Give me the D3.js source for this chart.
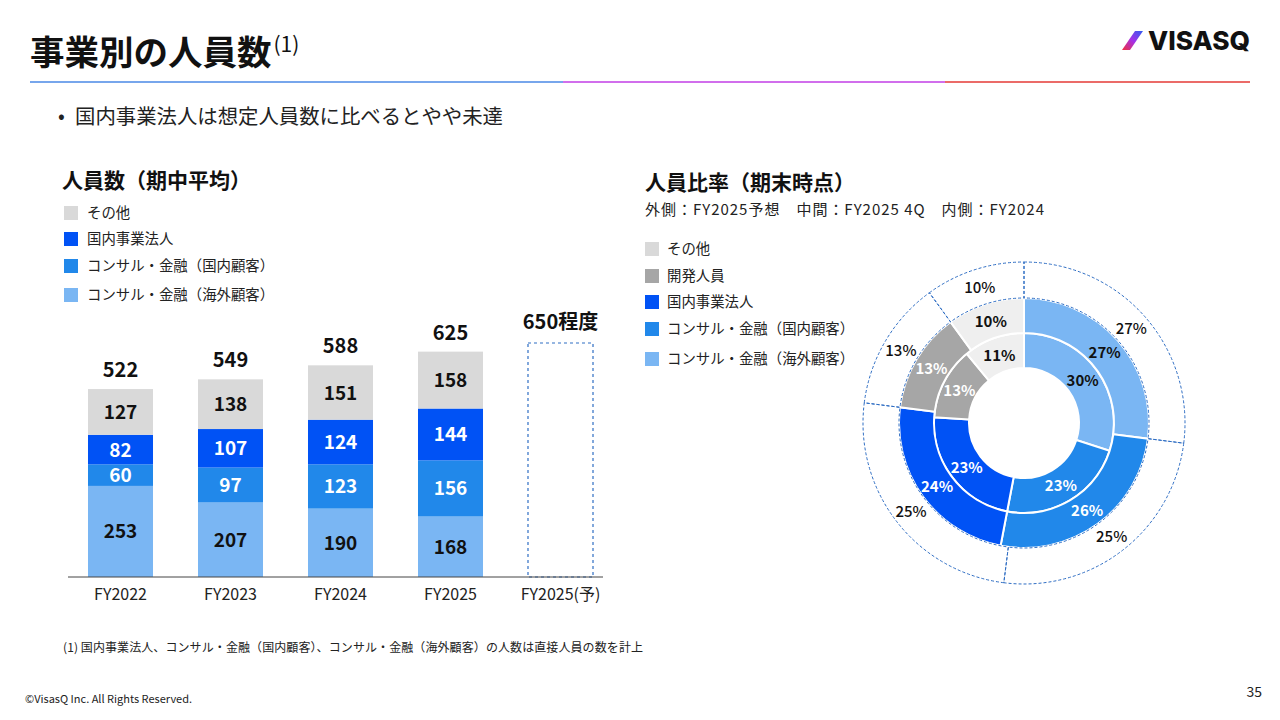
<!DOCTYPE html>
<html>
<head>
<meta charset="utf-8">
<script src="https://cdn.jsdelivr.net/npm/d3@7"></script>
<style>
  body { margin: 0; background: #fff; }
  svg { font-family: "Noto Sans CJK JP", "Noto Sans", sans-serif; }
</style>
</head>
<body>
<script>
// bar chart data (期中平均)
const years = ['FY2022', 'FY2023', 'FY2024', 'FY2025', 'FY2025(予)'];
const overseas = [253, 207, 190, 168];
const domesticClient = [60, 97, 123, 156];
const domesticCorp = [82, 107, 124, 144];
const others = [127, 138, 151, 158];
const totals = [522, 549, 588, 625];
const forecastTotal = 650;
const forecastLabel = '650程度';

// donut data (期末時点), clockwise from top
const donutCats = ['コンサル・金融（海外顧客）', 'コンサル・金融（国内顧客）', '国内事業法人', '開発人員', 'その他'];
const innerFY2024 = [30, 23, 23, 13, 11];
const middleFY2025Q4 = [27, 26, 24, 13, 10];
const outerFY2025Plan = [27, 25, 25, 13, 10];

const barLegend = ['その他', '国内事業法人', 'コンサル・金融（国内顧客）', 'コンサル・金融（海外顧客）'];
const donutLegend = ['その他', '開発人員', '国内事業法人', 'コンサル・金融（国内顧客）', 'コンサル・金融（海外顧客）'];

const C = {
  other: '#d9d9d9',
  corp: '#0052f5',
  dom: '#2188ea',
  over: '#7ab6f3',
  dev: '#a6a6a6',
  otherDonut: '#efefef'
};

const width = 1280, height = 720;
const svg = d3.select('body').append('svg')
  .attr('width', width)
  .attr('height', height);

const defs = svg.append('defs');
const lg = defs.append('linearGradient').attr('id', 'logoGrad')
  .attr('x1', '0%').attr('y1', '100%').attr('x2', '100%').attr('y2', '0%');
lg.append('stop').attr('offset', '0%').attr('stop-color', '#f0303a');
lg.append('stop').attr('offset', '50%').attr('stop-color', '#a530e8');
lg.append('stop').attr('offset', '100%').attr('stop-color', '#2f5cf0');

// header
const title = svg.append('text').attr('x', 30).attr('y', 65)
  .attr('font-size', 34.5).attr('font-weight', 700).attr('fill', '#111');
title.append('tspan').text('事業別の人員数');
title.append('tspan').attr('font-size', 21).attr('font-weight', 400).attr('dx', 2).attr('dy', -13).text('(1)');

// rule under the title
[[30, 563, '#4a88e6'], [563, 945, '#c23ee6'], [945, 1250, '#e43a36']].forEach(s => {
  svg.append('line').attr('x1', s[0]).attr('x2', s[1]).attr('y1', 82).attr('y2', 82)
    .attr('stroke', s[2]).attr('stroke-width', 1.6);
});

// logo
svg.append('path')
  .attr('d', 'M1122,50 L1130,50 L1143,31 L1135,31 Z')
  .attr('fill', 'url(#logoGrad)');
svg.append('text').attr('x', 1148).attr('y', 50)
  .attr('font-family', 'Inter, Roboto, sans-serif')
  .attr('font-size', 26).attr('font-weight', 800).attr('fill', '#111')
  .attr('textLength', 102).attr('lengthAdjust', 'spacingAndGlyphs')
  .text('VISASQ');

svg.append('text').attr('x', 58).attr('y', 123).attr('font-size', 20).attr('fill', '#222')
  .text('•');
svg.append('text').attr('x', 75).attr('y', 124).attr('font-size', 20.4).attr('fill', '#222')
  .attr('textLength', 428)
  .text('国内事業法人は想定人員数に比べるとやや未達');

// ---------- bar chart ----------
svg.append('text').attr('x', 62).attr('y', 188)
  .attr('font-size', 21).attr('font-weight', 700).attr('fill', '#111')
  .text('人員数（期中平均）');

const barColors = [C.other, C.corp, C.dom, C.over];
const bl = svg.append('g').selectAll('g').data(barLegend).enter().append('g')
  .attr('transform', (d, i) => `translate(64, ${[213, 239, 266, 295][i]})`);
bl.append('rect').attr('y', -7).attr('width', 14).attr('height', 14)
  .attr('fill', (d, i) => barColors[i]);
bl.append('text').attr('x', 23).attr('y', 5).attr('font-size', 14.4).attr('fill', '#222')
  .text(d => d);

const x = d3.scaleBand().domain(years).range([65.5, 615.5])
  .paddingInner(0.409).paddingOuter(0.2045);
const y = d3.scaleLinear().domain([0, forecastTotal]).range([577, 343]);

const stackRows = years.slice(0, 4).map((yr, i) => ({
  year: yr, over: overseas[i], dom: domesticClient[i], corp: domesticCorp[i], other: others[i]
}));
const keys = ['over', 'dom', 'corp', 'other'];
const series = d3.stack().keys(keys)(stackRows);
const textCol = { over: '#111', dom: '#fff', corp: '#fff', other: '#111' };

const layer = svg.append('g').selectAll('g').data(series).enter().append('g')
  .attr('fill', d => C[d.key]);
layer.selectAll('rect').data(d => d).enter().append('rect')
  .attr('x', d => x(d.data.year))
  .attr('width', x.bandwidth())
  .attr('y', d => y(d[1]))
  .attr('height', d => y(d[0]) - y(d[1]));

series.forEach(s => {
  svg.append('g').selectAll('text').data(s).enter().append('text')
    .attr('x', d => x(d.data.year) + x.bandwidth() / 2)
    .attr('y', d => (y(d[0]) + y(d[1])) / 2 + 7)
    .attr('text-anchor', 'middle')
    .attr('font-size', 19).attr('font-weight', 700)
    .attr('fill', textCol[s.key])
    .text(d => d[1] - d[0]);
});

svg.append('g').selectAll('text').data(totals).enter().append('text')
  .attr('x', (d, i) => x(years[i]) + x.bandwidth() / 2)
  .attr('y', d => y(d) - 12)
  .attr('text-anchor', 'middle')
  .attr('font-size', 20).attr('font-weight', 700).attr('fill', '#111')
  .text(d => d);

// forecast box
const fy = years[4];
svg.append('rect')
  .attr('x', x(fy)).attr('width', x.bandwidth())
  .attr('y', y(forecastTotal)).attr('height', y(0) - y(forecastTotal))
  .attr('fill', 'none').attr('stroke', '#2f6ec4').attr('stroke-width', 1.2)
  .attr('stroke-dasharray', '3,3');
svg.append('text')
  .attr('x', x(fy) + x.bandwidth() / 2).attr('y', y(forecastTotal) - 14)
  .attr('text-anchor', 'middle')
  .attr('font-size', 20).attr('font-weight', 700).attr('fill', '#111')
  .text(forecastLabel);

// baseline + category labels
const xAxis = svg.append('g').attr('transform', `translate(0, ${y(0)})`)
  .call(d3.axisBottom(x).tickSize(0).tickPadding(12));
xAxis.select('.domain').attr('d', 'M68,0H603').attr('stroke', '#444');
xAxis.selectAll('text').attr('font-size', 16).attr('fill', '#222')
  .attr('font-family', '"Noto Sans CJK JP", sans-serif');

// ---------- donut chart ----------
svg.append('text').attr('x', 645).attr('y', 190)
  .attr('font-size', 21).attr('font-weight', 700).attr('fill', '#111')
  .text('人員比率（期末時点）');
svg.append('text').attr('x', 645).attr('y', 215)
  .attr('font-size', 15).attr('fill', '#222')
  .attr('xml:space', 'preserve')
  .attr('textLength', 399)
  .text('外側：FY2025予想　中間：FY2025 4Q　内側：FY2024');

const donutLegendColors = [C.other, C.dev, C.corp, C.dom, C.over];
const dl = svg.append('g').selectAll('g').data(donutLegend).enter().append('g')
  .attr('transform', (d, i) => `translate(645, ${[249, 276, 302, 329, 359][i]})`);
dl.append('rect').attr('y', -7).attr('width', 14).attr('height', 14)
  .attr('fill', (d, i) => donutLegendColors[i]);
dl.append('text').attr('x', 22).attr('y', 5).attr('font-size', 14.4).attr('fill', '#222')
  .text(d => d);

const ringColors = [C.over, C.dom, C.corp, C.dev, C.otherDonut];
const pie = d3.pie().sort(null).value(d => d);
const g = svg.append('g').attr('transform', 'translate(1024, 423)');

function ring(values, r0, r1, labelColors, opts) {
  const arc = d3.arc().innerRadius(r0).outerRadius(r1);
  const arcs = pie(values);
  const rg = g.append('g');
  rg.selectAll('path').data(arcs).enter().append('path')
    .attr('d', arc)
    .attr('fill', (d, i) => opts.dashed ? 'none' : ringColors[i])
    .attr('stroke', opts.dashed ? '#2f6ec4' : '#fff')
    .attr('stroke-width', opts.dashed ? 1 : 2)
    .attr('stroke-dasharray', opts.dashed ? '3,2' : null);
  rg.selectAll('text').data(arcs).enter().append('text')
    .attr('transform', d => `translate(${arc.centroid(d)})`)
    .attr('dy', 6)
    .attr('text-anchor', 'middle')
    .attr('font-size', 15)
    .attr('font-weight', opts.weight)
    .attr('fill', (d, i) => labelColors[i])
    .text(d => d.data + '%');
}

ring(innerFY2024, 55, 90, ['#111', '#fff', '#fff', '#fff', '#111'], { weight: 700 });
ring(middleFY2025Q4, 90, 125, ['#111', '#fff', '#fff', '#fff', '#111'], { weight: 700 });
ring(outerFY2025Plan, 125, 161, ['#111', '#111', '#111', '#111', '#111'], { dashed: true, weight: 500 });

// footer
svg.append('text').attr('x', 63).attr('y', 652).attr('font-size', 12).attr('fill', '#222')
  .attr('textLength', 580)
  .text('(1) 国内事業法人、コンサル・金融（国内顧客）、コンサル・金融（海外顧客）の人数は直接人員の数を計上');
svg.append('text').attr('x', 25).attr('y', 703).attr('font-size', 11).attr('fill', '#222')
  .text('©VisasQ Inc. All Rights Reserved.');
svg.append('text').attr('x', 1262).attr('y', 697).attr('text-anchor', 'end')
  .attr('font-size', 14).attr('fill', '#222').text('35');
</script>
</body>
</html>
